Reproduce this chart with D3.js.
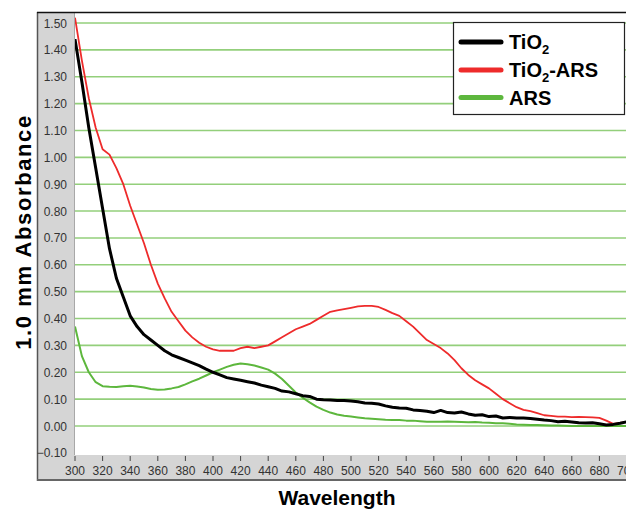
<!DOCTYPE html>
<html><head><meta charset="utf-8">
<script src="https://cdn.jsdelivr.net/npm/d3@7"></script>
<style>html,body{margin:0;padding:0;background:#fff;overflow:hidden}</style>
</head><body>
<svg id="chart" width="626" height="509"></svg>
<script>
const wavelengths = [300,305,310,315,320,325,330,335,340,345,350,355,360,365,370,375,380,385,390,395,400,405,410,415,420,425,430,435,440,445,450,455,460,465,470,475,480,485,490,495,500,505,510,515,520,525,530,535,540,545,550,555,560,565,570,575,580,585,590,595,600,605,610,615,620,625,630,635,640,645,650,655,660,665,670,675,680,685,690,695,700];
const tio2 = [1.44,1.28,1.11,0.96,0.81,0.66,0.55,0.48,0.41,0.37,0.34,0.32,0.30,0.28,0.265,0.255,0.245,0.235,0.225,0.212,0.20,0.19,0.18,0.175,0.17,0.165,0.16,0.152,0.146,0.14,0.13,0.127,0.12,0.113,0.11,0.10,0.098,0.097,0.095,0.095,0.093,0.09,0.086,0.085,0.082,0.075,0.07,0.067,0.066,0.06,0.058,0.055,0.05,0.058,0.05,0.048,0.052,0.045,0.04,0.042,0.035,0.037,0.03,0.032,0.03,0.03,0.028,0.025,0.022,0.02,0.016,0.018,0.015,0.012,0.011,0.012,0.008,0.004,0.006,0.01,0.016];
const tio2Ars = [1.52,1.36,1.22,1.11,1.03,1.01,0.96,0.90,0.82,0.75,0.68,0.60,0.53,0.475,0.425,0.39,0.355,0.33,0.31,0.295,0.285,0.28,0.28,0.28,0.29,0.295,0.29,0.295,0.30,0.315,0.33,0.345,0.36,0.37,0.38,0.395,0.41,0.425,0.43,0.435,0.44,0.445,0.447,0.447,0.443,0.432,0.42,0.41,0.39,0.37,0.345,0.32,0.305,0.29,0.27,0.245,0.215,0.19,0.17,0.155,0.14,0.12,0.10,0.085,0.07,0.06,0.055,0.048,0.04,0.038,0.035,0.035,0.033,0.034,0.033,0.032,0.03,0.02,0.008,0.012,0.016];
const ars = [0.37,0.26,0.20,0.163,0.148,0.146,0.145,0.148,0.15,0.147,0.143,0.138,0.135,0.136,0.14,0.145,0.155,0.166,0.176,0.188,0.20,0.21,0.22,0.228,0.233,0.23,0.225,0.218,0.21,0.195,0.175,0.15,0.125,0.105,0.088,0.072,0.06,0.05,0.043,0.038,0.035,0.032,0.029,0.027,0.025,0.023,0.022,0.022,0.02,0.02,0.018,0.016,0.016,0.016,0.017,0.016,0.015,0.014,0.015,0.013,0.012,0.01,0.01,0.008,0.006,0.005,0.004,0.004,0.003,0.002,0.002,0.001,0,0,0,0,0,0,0.001,0,0];
const xTicks = [300,320,340,360,380,400,420,440,460,480,500,520,540,560,580,600,620,640,660,680,700];
const yTicks = [-0.10,0.00,0.10,0.20,0.30,0.40,0.50,0.60,0.70,0.80,0.90,1.00,1.10,1.20,1.30,1.40,1.50];
const seriesNames = ["TiO2","TiO2-ARS","ARS"];
const seriesColors = ["#000000","#ee2b2b","#5db73d"];
const seriesWidths = [3,1.8,2];
const seriesData = [tio2, tio2Ars, ars];

const svg = d3.select("#chart");
const plotL = 74, plotT = 12, plotB = 455, W = 626;
const x = d3.scaleLinear().domain([300,700]).range([75,627]);
const y = d3.scaleLinear().domain([0,1.5]).range([426,23]);

// background bands
svg.append("rect").attr("x",37).attr("y",plotT).attr("width",plotL-37).attr("height",480-plotT).attr("fill","#d5d5d5");
svg.append("rect").attr("x",37).attr("y",plotB).attr("width",W-37).attr("height",25).attr("fill","#d5d5d5");
svg.append("rect").attr("x",plotL).attr("y",plotT).attr("width",W-plotL).attr("height",plotB-plotT).attr("fill","#fff");
svg.append("line").attr("x1",plotL+0.5).attr("x2",plotL+0.5).attr("y1",plotT).attr("y2",plotB).attr("stroke","#a8a8a8").attr("stroke-width",1);
svg.append("line").attr("x1",37.5).attr("x2",37.5).attr("y1",plotT).attr("y2",481).attr("stroke","#555").attr("stroke-width",1.5);
svg.append("line").attr("x1",37).attr("x2",W).attr("y1",480).attr("y2",480).attr("stroke","#666").attr("stroke-width",2);
svg.append("line").attr("x1",37).attr("x2",W).attr("y1",plotT+0.5).attr("y2",plotT+0.5).attr("stroke","#111").attr("stroke-width",1.5);

// gridlines
svg.append("g").selectAll("line").data(yTicks.filter(d=>d>=0)).join("line")
  .attr("x1",plotL+1).attr("x2",W).attr("y1",d=>y(d)).attr("y2",d=>y(d))
  .attr("stroke","#93cf7b").attr("stroke-width",1.6);

// y tick labels
svg.append("g").selectAll("text").data(yTicks).join("text")
  .attr("x",67).attr("y",d=>y(d)+4.5).attr("text-anchor","end")
  .attr("font-family","Liberation Sans, Arial, sans-serif").attr("font-size",12).attr("fill","#333")
  .text(d=>d3.format(".2f")(d));

// x ticks
svg.append("g").selectAll("line").data(xTicks).join("line")
  .attr("x1",d=>x(d)).attr("x2",d=>x(d)).attr("y1",plotB+1).attr("y2",plotB+6)
  .attr("stroke","#444").attr("stroke-width",1);
svg.append("g").selectAll("text").data(xTicks).join("text")
  .attr("x",d=>x(d)).attr("y",475).attr("text-anchor","middle")
  .attr("font-family","Liberation Sans, Arial, sans-serif").attr("font-size",12).attr("fill","#333")
  .text(d=>d);

// lines
svg.append("clipPath").attr("id","clip").append("rect").attr("x",plotL+1).attr("y",plotT).attr("width",W-plotL).attr("height",plotB-plotT);
const line = d3.line().x((d,i)=>x(wavelengths[i])).y(d=>y(d));
const g = svg.append("g").attr("clip-path","url(#clip)");
[2,1,0].forEach(k=>{
  g.append("path").datum(seriesData[k]).attr("d",line).attr("fill","none")
   .attr("stroke",seriesColors[k]).attr("stroke-width",seriesWidths[k]).attr("stroke-linejoin","round");
});

// legend
const lg = svg.append("g");
lg.append("rect").attr("x",453.5).attr("y",22.5).attr("width",171).attr("height",92).attr("fill","#fff").attr("stroke","#222").attr("stroke-width",1.2);
const lY = [42,70,97.5];
seriesNames.forEach((n,i)=>{
  lg.append("line").attr("x1",461).attr("x2",501).attr("y1",lY[i]).attr("y2",lY[i])
    .attr("stroke",seriesColors[i]).attr("stroke-width",5).attr("stroke-linecap","round");
  const t = lg.append("text").attr("x",509).attr("y",lY[i]+7)
    .attr("font-family","Liberation Sans, Arial, sans-serif").attr("font-weight","bold").attr("font-size",20).attr("fill","#000");
  if (n.startsWith("TiO2")) {
    t.append("tspan").text("TiO");
    t.append("tspan").attr("font-size",13).attr("dy",5).text("2");
    if (n.length>4) t.append("tspan").attr("dy",-5).text(n.slice(4));
  } else t.text(n);
});

// axis titles
svg.append("text").attr("transform","translate(31,232) rotate(-90)").attr("text-anchor","middle")
  .attr("font-family","Liberation Sans, Arial, sans-serif").attr("font-weight","bold").attr("font-size",22)
  .attr("letter-spacing",1.6).attr("fill","#000").text("1.0 mm Absorbance");
svg.append("text").attr("x",337).attr("y",505).attr("text-anchor","middle")
  .attr("font-family","Liberation Sans, Arial, sans-serif").attr("font-weight","bold").attr("font-size",21)
  .attr("fill","#000").text("Wavelength");
</script>
</body></html>
